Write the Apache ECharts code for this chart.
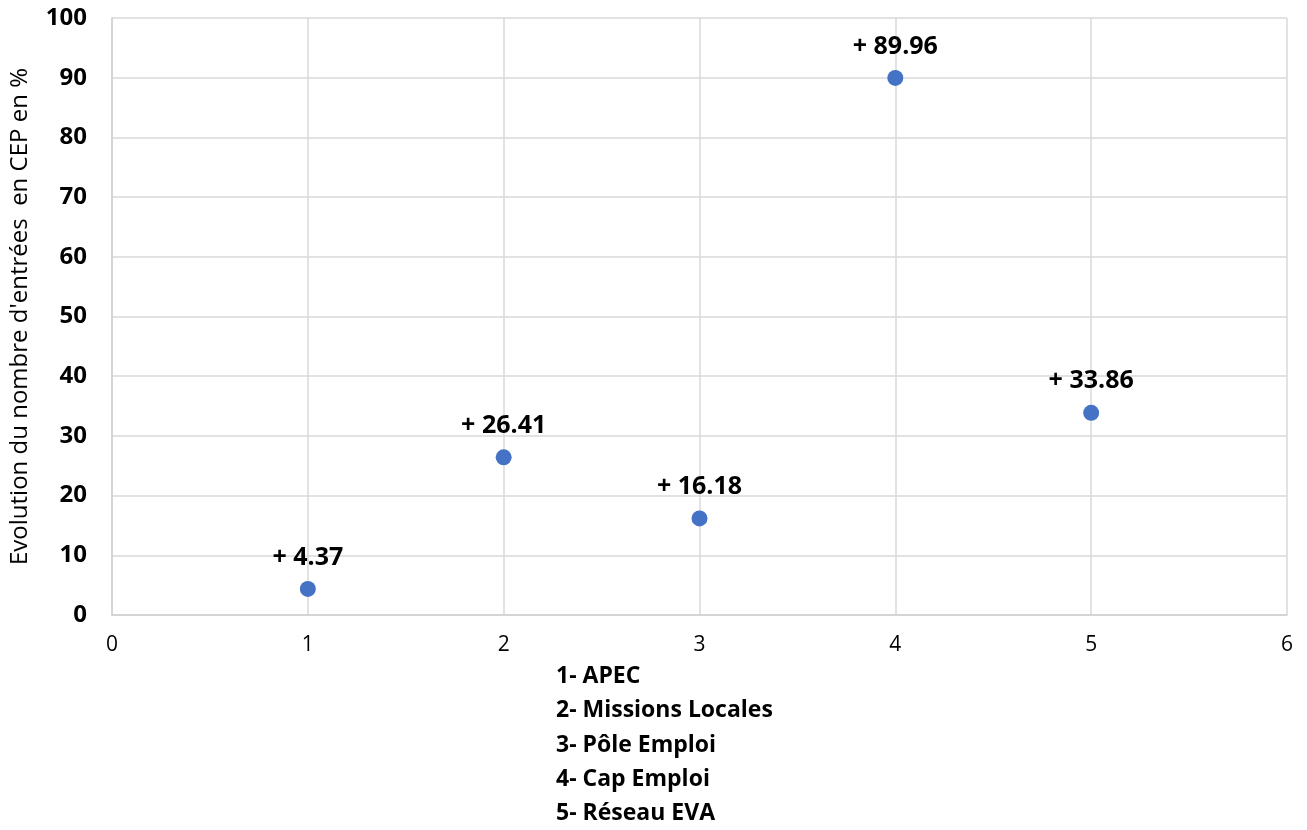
<!DOCTYPE html>
<html>
<head>
<meta charset="utf-8">
<script src="https://cdn.jsdelivr.net/npm/echarts@6/dist/echarts.min.js"></script>
<style>
  html, body { margin: 0; padding: 0; background: #fff; }
  #chart { width: 1307px; height: 830px; }
</style>
</head>
<body>
<div id="chart"></div>
<script>
// Network index (1..5) and change in CEP entries (%)
const networkIndex = [1, 2, 3, 4, 5];
const evolution = [4.37, 26.41, 16.18, 89.96, 33.86];
const networkNames = [
  '1- APEC',
  '2- Missions Locales',
  '3- Pôle Emploi',
  '4- Cap Emploi',
  '5- Réseau EVA'
];
const yAxisTitle = "Evolution du nombre d'entrées  en CEP en %";

const FONT = '"Open Sans", "Liberation Sans", sans-serif';
const chart = echarts.init(document.getElementById('chart'));

// Key to the network numbers, stacked under the x axis
const legendLines = networkNames.map((name, i) => ({
  type: 'text',
  left: 556,
  top: 665 + i * 34.3,
  style: { text: name, font: 'bold 23px ' + FONT, fill: '#000' }
}));

chart.setOption({
  animation: false,
  grid: { left: 110, right: 20, top: 18, bottom: 215 },
  xAxis: {
    type: 'value', min: 0, max: 6, interval: 1,
    axisLine: { show: true, lineStyle: { color: '#d0d0d0', width: 1.5 } },
    axisTick: { show: false },
    splitLine: { show: true, lineStyle: { color: '#d9d9d9', width: 1.5 } },
    axisLabel: { color: '#000', fontFamily: FONT, fontSize: 21, margin: 20 }
  },
  yAxis: {
    type: 'value', min: 0, max: 100, interval: 10,
    name: yAxisTitle, nameLocation: 'middle', nameGap: 80,
    nameTextStyle: { color: '#000', fontFamily: FONT, fontSize: 24 },
    axisLine: { show: true, lineStyle: { color: '#d0d0d0', width: 1.5 } },
    axisTick: { show: false },
    splitLine: { show: true, lineStyle: { color: '#d9d9d9', width: 1.5 } },
    axisLabel: { color: '#000', fontFamily: FONT, fontSize: 24, fontWeight: 'bold', margin: 25 }
  },
  graphic: legendLines,
  series: [{
    type: 'scatter',
    data: networkIndex.map((x, i) => [x, evolution[i]]),
    symbolSize: 16,
    itemStyle: { color: '#4472C4', opacity: 1 },
    label: {
      show: true, position: 'top', distance: 11,
      formatter: p => '+ ' + p.value[1].toFixed(2),
      color: '#000', fontFamily: FONT, fontSize: 25, fontWeight: 'bold'
    }
  }]
});
</script>
</body>
</html>
